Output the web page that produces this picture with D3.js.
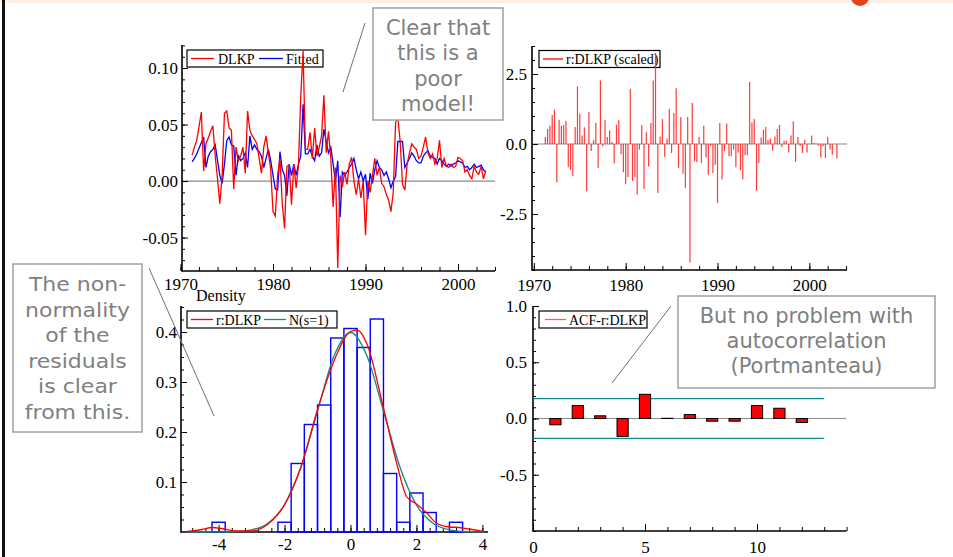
<!DOCTYPE html>
<html>
<head>
<meta charset="utf-8">
<script src="https://cdn.jsdelivr.net/npm/d3@7"></script>
<style>
  body { margin: 0; background: #fff; }
  svg { display: block; }
  text { font-family: "Liberation Serif", "Times New Roman", serif; }
  .note text { font-family: "DejaVu Sans", Verdana, sans-serif; fill: #808080; }
</style>
</head>
<body>
<svg id="chart" width="953" height="557"></svg>
<script>
// quarterly data, first observation 1971 Q2
var startYear = 1971.25;
var dlkp = [0.023,0.030,0.036,0.048,0.061,0.009,0.033,0.038,0.044,0.049,
  0.022,0.002,-0.020,0.005,0.060,0.062,0.047,0.045,-0.007,0.030,
  0.018,0.022,0.030,0.007,0.062,0.045,0.040,0.037,0.033,0.020,
  0.007,0.030,0.040,0.025,0.010,-0.027,-0.031,0.005,0.020,-0.020,
  -0.042,0.013,0.014,-0.021,0.015,-0.006,0.014,0.075,0.115,0.028,
  0.028,0.043,0.020,0.047,0.022,0.030,0.040,0.076,0.025,0.044,
  0.020,-0.023,0.012,-0.077,0.005,-0.005,0.008,-0.003,0.015,0.021,
  0.000,-0.012,0.002,-0.015,0.000,-0.048,0.000,-0.010,0.005,0.020,
  0.005,0.012,-0.002,-0.005,-0.012,-0.017,-0.027,-0.010,0.052,0.056,
  0.035,-0.003,-0.008,0.015,0.025,0.033,0.030,0.028,0.020,0.022,
  0.030,0.039,0.025,0.020,0.024,0.015,0.020,0.036,0.012,0.020,
  0.013,0.012,0.015,0.012,0.013,0.021,0.020,0.018,0.008,0.010,
  0.005,0.002,0.013,0.008,0.006,0.013,0.002,0.009];
var fitted = [0.017,0.020,0.024,0.029,0.034,0.039,0.012,0.022,0.026,0.028,
  0.032,0.018,0.005,-0.002,0.015,0.036,0.039,0.032,0.031,0.005,
  0.023,0.018,0.020,0.025,0.012,0.040,0.028,0.032,0.028,0.026,
  0.022,0.012,0.020,0.028,0.018,0.005,-0.007,-0.008,0.026,0.010,
  0.005,-0.013,0.015,0.005,0.015,0.005,0.015,0.022,0.068,0.024,
  0.024,0.028,0.022,0.018,0.032,0.022,0.025,0.046,0.035,0.025,
  0.030,0.015,0.000,0.018,-0.032,0.008,0.005,0.008,0.012,0.015,
  0.020,0.010,0.002,0.008,0.000,0.006,-0.016,0.007,-0.002,0.010,
  0.018,0.012,0.010,0.005,0.008,0.002,-0.006,0.000,0.004,0.035,
  0.035,0.035,0.012,0.016,0.020,0.025,0.022,0.018,0.016,0.016,
  0.022,0.025,0.027,0.022,0.021,0.020,0.015,0.020,0.018,0.015,
  0.013,0.015,0.013,0.015,0.016,0.018,0.017,0.016,0.012,0.013,
  0.010,0.012,0.015,0.012,0.013,0.014,0.010,0.008];
var resid = [0.25,0.54,0.65,1.04,1.23,-1.37,0.87,0.65,0.68,0.83,
  -0.83,-0.92,-1.15,0.61,2.06,1.08,0.30,0.60,-1.69,1.14,
  -0.25,0.14,0.76,-0.86,2.27,-0.08,0.86,0.25,0.48,0.07,
  -0.70,0.69,0.86,-0.37,-1.01,-1.44,-1.18,1.96,-1.32,-1.18,
  -1.80,-0.20,0.68,-1.61,0.42,-0.80,0.75,2.27,3.25,-1.75,
  0.27,0.89,-0.46,0.20,1.25,-0.32,1.11,1.99,-0.85,0.96,
  -1.06,-1.56,0.96,-4.23,1.46,-0.62,-0.64,0.25,-0.68,0.65,
  -0.48,-1.10,-0.08,-1.04,-0.74,-2.11,0.75,-1.27,-0.26,0.73,
  -0.44,-0.44,-0.20,-0.83,-0.30,-0.94,-1.27,-0.40,-0.40,2.21,
  0.77,0.89,-1.67,-0.68,0.23,0.51,0.61,0.15,0.20,-0.24,
  0.27,0.54,0.68,-0.11,0.12,0.12,-0.30,0.30,0.80,-0.64,
  0.25,-0.08,-0.32,0.15,-0.30,0.01,0.30,0.04,0.02,-0.06,
  -0.48,-0.08,-0.50,0.25,-0.20,-0.38,0.00,-0.52];

// histogram of scaled residuals (bin width 0.4)
var binLo = [-4.2,-3.8,-3.4,-3.0,-2.6,-2.2,-1.8,-1.4,-1.0,-0.6,-0.2,0.2,0.6,1.0,1.4,1.8,2.2,2.6,3.0];
var binDensity = [0.0195,0,0,0,0,0.0195,0.137,0.215,0.254,0.388,0.407,0.369,0.426,0.117,0.0195,0.078,0.039,0,0.0195];
var binWidth = 0.4;
var kdeX = [-4.95,-4.5,-4.2,-3.9,-3.5,-3.0,-2.5,-2.0,-1.5,-1.0,-0.5,0,0.2,0.5,1.0,1.4,1.7,2.0,2.3,2.6,3.0,3.3,3.6,4.05];
var kdeY = [0.001,0.005,0.009,0.007,0.002,0.002,0.016,0.055,0.131,0.245,0.342,0.401,0.404,0.376,0.248,0.138,0.071,0.056,0.039,0.018,0.010,0.009,0.006,0.001];
var normX = [-4.9,-4.5,-4,-3.5,-3,-2.5,-2,-1.5,-1,-0.5,0,0.5,1,1.5,2,2.5,3,3.5,4,4.05];
var normY = [0.0000,0.0000,0.0001,0.0009,0.0044,0.0175,0.054,0.130,0.242,0.352,0.399,0.352,0.242,0.130,0.054,0.0175,0.0044,0.0009,0.0001,0.0001];

// autocorrelations of residuals
var lags = [1,2,3,4,5,6,7,8,9,10,11,12];
var acf = [-0.056,0.115,0.024,-0.159,0.215,0.002,0.035,-0.024,-0.024,0.115,0.091,-0.035];
var acfBand = 0.176;

// tick values
var yearMajor = [1970,1980,1990,2000];
var yearMinor = d3.range(1970, 2005, 2);
var p1YMajor = [-0.05,0,0.05,0.10];
var p1YMinor = d3.range(-7, 13).map(function(d){ return d / 100; });
var p2YMajor = [-2.5,0,2.5];
var p2YMinor = d3.range(-9, 8).map(function(d){ return d / 2; });
var p3XMajor = [-4,-2,0,2,4];
var p3XMinor = d3.range(-12, 11).map(function(d){ return d * 0.4; });
var p3YMajor = [0.1,0.2,0.3,0.4];
var p3YMinor = d3.range(1, 19).map(function(d){ return d * 0.025; });
var p4XMajor = [0,5,10];
var p4XMinor = d3.range(0, 15);
var p4YMajor = [-0.5,0,0.5,1.0];
var p4YMinor = d3.range(-10, 11).map(function(d){ return d / 10; });

var svg = d3.select("#chart");
var quarter = function(i){ return startYear + i * 0.25; };

// page decoration
svg.append("rect").attr("x", 0).attr("y", 0).attr("width", 953).attr("height", 3).attr("fill", "#fcefe4");
svg.append("circle").attr("cx", 860).attr("cy", -3).attr("r", 9).attr("fill", "#e5411c");
svg.append("rect").attr("x", 2).attr("y", 0).attr("width", 3).attr("height", 557).attr("fill", "#111");

function axes(xs, ys, o) {
  var x0 = ys.range()[0], y0 = xs.range()[0];
  var gx = svg.append("g").attr("transform", "translate(0," + x0 + ")");
  gx.append("g").call(d3.axisBottom(xs).tickValues(o.xMinor).tickSizeInner(-4).tickSizeOuter(0).tickFormat(""));
  gx.append("g").call(d3.axisBottom(xs).tickValues(o.xMajor).tickSizeInner(-7).tickSizeOuter(0)
    .tickPadding(o.xPad).tickFormat(o.xFmt));
  var gy = svg.append("g").attr("transform", "translate(" + y0 + ",0)");
  gy.append("g").call(d3.axisLeft(ys).tickValues(o.yMinor).tickSizeInner(-3).tickSizeOuter(0).tickFormat(""));
  gy.append("g").call(d3.axisLeft(ys).tickValues(o.yMajor).tickSizeInner(-6).tickSizeOuter(0)
    .tickPadding(o.yPad).tickFormat(o.yFmt));
  [gx, gy].forEach(function(g) {
    g.selectAll(".domain").remove();
    g.selectAll("line").attr("stroke", "#000").attr("stroke-width", 1);
    g.selectAll("text").attr("font-size", 17).attr("fill", "#000")
      .style("font-family", "'Liberation Serif', serif");
  });
  svg.append("line").attr("x1", y0).attr("x2", xs.range()[1]).attr("y1", x0).attr("y2", x0)
    .attr("stroke", "#000").attr("stroke-width", 1.6);
  svg.append("line").attr("x1", y0).attr("x2", y0).attr("y1", ys.range()[0] + 0.8).attr("y2", ys.range()[1])
    .attr("stroke", "#000").attr("stroke-width", 1.6);
}

function legend(x, y, w, items) {
  var g = svg.append("g");
  g.append("rect").attr("x", x).attr("y", y).attr("width", w).attr("height", 17)
    .attr("fill", "#fff").attr("stroke", "#000").attr("stroke-width", 1.2);
  items.forEach(function(it) {
    g.append("line").attr("x1", it.l1).attr("x2", it.l2).attr("y1", y + 8.5).attr("y2", y + 8.5)
      .attr("stroke", it.color).attr("stroke-width", 1.3);
    g.append("text").attr("x", it.t).attr("y", y + 13.5).attr("font-size", 14).text(it.label);
  });
}

function zeroLine(xs, ys, x2) {
  svg.append("line").attr("x1", xs.range()[0]).attr("x2", x2).attr("y1", ys(0)).attr("y2", ys(0))
    .attr("stroke", "#8a8a8a").attr("stroke-width", 1.2);
}

var fmt2 = function(d){ return d.toFixed(2); };
var fmt1 = function(d){ return d.toFixed(1); };
var fmt0 = function(d){ return String(d); };

// ---- panel 1: actual and fitted
var x1 = d3.scaleLinear().domain([1970.16, 2004.0]).range([182, 495]);
var y1 = d3.scaleLinear().domain([-0.0796, 0.1204]).range([271, 45]);
zeroLine(x1, y1, 495);
axes(x1, y1, {xMajor: yearMajor, xMinor: yearMinor, xPad: 7, xFmt: fmt0,
  yMajor: p1YMajor, yMinor: p1YMinor, yPad: 4, yFmt: fmt2});
legend(187, 50, 136, [
  {l1: 191, l2: 214, t: 218, color: "#ff0000", label: "DLKP"},
  {l1: 259, l2: 283, t: 286, color: "#0000ff", label: "Fitted"}]);
var line1 = d3.line().x(function(d, i){ return x1(quarter(i)); }).y(function(d){ return y1(d); });
svg.append("path").datum(fitted).attr("d", line1).attr("fill", "none").attr("stroke", "#0000ff").attr("stroke-width", 1.3);
svg.append("path").datum(dlkp).attr("d", line1).attr("fill", "none").attr("stroke", "#ff0000").attr("stroke-width", 1.3);

// ---- panel 2: scaled residuals
var x2 = d3.scaleLinear().domain([1969.8, 2004.1]).range([532, 847]);
var y2 = d3.scaleLinear().domain([-4.5, 3.5]).range([270, 46]);
zeroLine(x2, y2, 847);
axes(x2, y2, {xMajor: yearMajor, xMinor: yearMinor, xPad: 9, xFmt: fmt0,
  yMajor: p2YMajor, yMinor: p2YMinor, yPad: 5, yFmt: fmt1});
legend(539, 50.5, 121, [{l1: 543, l2: 563, t: 566, color: "#ff0000", label: "r:DLKP (scaled)"}]);
svg.append("g").selectAll("line").data(resid).enter().append("line")
  .attr("x1", function(d, i){ return x2(quarter(i)); })
  .attr("x2", function(d, i){ return x2(quarter(i)); })
  .attr("y1", y2(0))
  .attr("y2", function(d){ return y2(d); })
  .attr("stroke", "#ff3b3b").attr("stroke-width", 1.2);

// ---- panel 3: density
var x3 = d3.scaleLinear().domain([-5.14, 4.17]).range([181, 488]);
var y3 = d3.scaleLinear().domain([0, 0.452]).range([532, 306]);
axes(x3, y3, {xMajor: p3XMajor, xMinor: p3XMinor, xPad: 6, xFmt: fmt0,
  yMajor: p3YMajor, yMinor: p3YMinor, yPad: 4, yFmt: fmt1});
svg.append("text").attr("x", 196).attr("y", 301).attr("font-size", 16).text("Density");
legend(187, 311, 150, [
  {l1: 191, l2: 213, t: 216, color: "#ff0000", label: "r:DLKP"},
  {l1: 264, l2: 286, t: 289, color: "#108a8a", label: "N(s=1)"}]);
var bins = binLo.map(function(lo, i){ return {lo: lo, d: binDensity[i]}; })
  .filter(function(b){ return b.d > 0; });
svg.append("g").selectAll("rect").data(bins).enter().append("rect")
  .attr("x", function(b){ return x3(b.lo); })
  .attr("width", function(b){ return x3(b.lo + binWidth) - x3(b.lo); })
  .attr("y", function(b){ return y3(b.d); })
  .attr("height", function(b){ return y3(0) - y3(b.d); })
  .attr("fill", "none").attr("stroke", "#0000ff").attr("stroke-width", 1.4);
var curve3 = d3.line().curve(d3.curveMonotoneX)
  .x(function(d){ return x3(d[0]); }).y(function(d){ return y3(d[1]); });
svg.append("path").datum(d3.zip(normX, normY)).attr("d", curve3)
  .attr("fill", "none").attr("stroke", "#108a8a").attr("stroke-width", 1.3);
svg.append("path").datum(d3.zip(kdeX, kdeY)).attr("d", curve3)
  .attr("fill", "none").attr("stroke", "#ff0000").attr("stroke-width", 1.3);

// ---- panel 4: ACF
var x4 = d3.scaleLinear().domain([0, 14]).range([533, 846.6]);
var y4 = d3.scaleLinear().domain([-1, 1]).range([531, 306]);
zeroLine(x4, y4, 846);
axes(x4, y4, {xMajor: p4XMajor, xMinor: p4XMinor, xPad: 10, xFmt: fmt0,
  yMajor: p4YMajor, yMinor: p4YMinor, yPad: 6, yFmt: fmt1});
legend(539, 311, 108, [{l1: 545, l2: 566, t: 569, color: "#f06060", label: "ACF-r:DLKP"}]);
[acfBand, -acfBand].forEach(function(v) {
  svg.append("line").attr("x1", x4(0)).attr("x2", x4(13)).attr("y1", y4(v)).attr("y2", y4(v))
    .attr("stroke", "#108a8a").attr("stroke-width", 1.3);
});
svg.append("g").selectAll("rect").data(acf).enter().append("rect")
  .attr("x", function(d, i){ return x4(lags[i] - 0.25); })
  .attr("width", x4(0.5) - x4(0))
  .attr("y", function(d){ return y4(Math.max(d, 0)); })
  .attr("height", function(d){ return Math.abs(y4(d) - y4(0)); })
  .attr("fill", "#ff0000").attr("stroke", "#000").attr("stroke-width", 1);

// ---- call-out notes
function note(x, y, w, h, lines, base, step, size, stretch) {
  var g = svg.append("g").attr("class", "note");
  g.append("rect").attr("x", x).attr("y", y).attr("width", w).attr("height", h)
    .attr("fill", "#fff").attr("stroke", "#a0a0a0").attr("stroke-width", 1.5);
  var t = g.append("g").attr("transform", "translate(" + (x + w / 2) + ",0) scale(" + stretch + ",1)");
  lines.forEach(function(s, i) {
    t.append("text").attr("x", 0).attr("y", base + i * step).attr("text-anchor", "middle")
      .attr("font-size", size).text(s);
  });
}
function pointer(a, b, c, d) {
  svg.append("line").attr("x1", a).attr("y1", b).attr("x2", c).attr("y2", d)
    .attr("stroke", "#707070").attr("stroke-width", 1);
}
pointer(343, 92, 365, 23);
pointer(149, 268, 214, 416);
pointer(612, 383, 671, 306);
note(373, 8, 130, 112, ["Clear that", "this is a", "poor", "model!"], 35, 25.3, 21, 1);
note(13, 264, 129, 168, ["The non-", "normality", "of the", "residuals", "is clear", "from this."], 291, 25.6, 20, 1.1);
note(678, 296, 257, 92, ["But no problem with", "autocorrelation", "(Portmanteau)"], 323, 25, 21, 1);
</script>
</body>
</html>
